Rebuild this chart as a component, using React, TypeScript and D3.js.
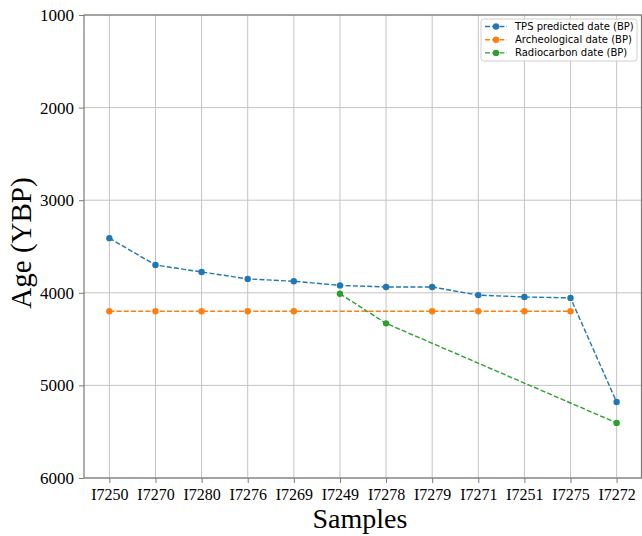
import React, { useEffect, useRef } from 'react';
import * as d3 from 'd3';

const samples = ['I7250', 'I7270', 'I7280', 'I7276', 'I7269', 'I7249', 'I7278', 'I7279', 'I7271', 'I7251', 'I7275', 'I7272'];
const tpsDates = [3410, 3700, 3775, 3850, 3875, 3920, 3937, 3937, 4025, 4045, 4055, 5180];
const archSamples = ['I7250', 'I7270', 'I7280', 'I7276', 'I7269', 'I7279', 'I7271', 'I7251', 'I7275'];
const archDates = [4200, 4200, 4200, 4200, 4200, 4200, 4200, 4200, 4200];
const radioSamples = ['I7249', 'I7278', 'I7272'];
const radioDates = [4010, 4330, 5405];
const yTicks = [1000, 2000, 3000, 4000, 5000, 6000];

const series = [
  { name: 'TPS predicted date (BP)', color: '#1f77b4', xs: samples, ys: tpsDates },
  { name: 'Archeological date (BP)', color: '#ff7f0e', xs: archSamples, ys: archDates },
  { name: 'Radiocarbon date (BP)', color: '#2ca02c', xs: radioSamples, ys: radioDates },
];

export default function App() {
  const svgRef = useRef<SVGSVGElement>(null);

  useEffect(() => {
    document.body.style.margin = '0';
    if (!svgRef.current) return;
    const svg = d3.select(svgRef.current);
    svg.selectAll('*').remove();

    const left = 84, right = 642, top = 15, bottom = 478;

    const x = d3.scalePoint<string>().domain(samples).range([left, right]).padding(0.55);
    const y = d3.scaleLinear().domain([1000, 6000]).range([top, bottom]);

    // grid
    const grid = svg.append('g').attr('stroke', '#b0b0b0').attr('stroke-width', 1).attr('opacity', 0.75);
    samples.forEach(s => {
      grid.append('line').attr('x1', x(s)!).attr('x2', x(s)!).attr('y1', top).attr('y2', bottom);
    });
    yTicks.forEach(t => {
      grid.append('line').attr('x1', left).attr('x2', right).attr('y1', y(t)).attr('y2', y(t));
    });

    // series
    const line = d3.line<[number, number]>().x(d => d[0]).y(d => d[1]);
    series.forEach(s => {
      const pts: [number, number][] = s.xs.map((k, i) => [x(k)!, y(s.ys[i])]);
      svg.append('path')
        .attr('d', line(pts)!)
        .attr('fill', 'none')
        .attr('stroke', s.color)
        .attr('stroke-width', 1.4)
        .attr('stroke-dasharray', '5,2.2');
      svg.append('g').selectAll('circle').data(pts).enter().append('circle')
        .attr('cx', d => d[0]).attr('cy', d => d[1]).attr('r', 3.2)
        .attr('fill', s.color);
    });

    // spines
    svg.append('rect')
      .attr('x', left).attr('y', top).attr('width', right - left - 0.5).attr('height', bottom - top)
      .attr('fill', 'none').attr('stroke', '#7a7a7a').attr('stroke-width', 1.2);

    // y axis
    const ya = svg.append('g').attr('transform', `translate(${left},0)`)
      .call(d3.axisLeft(y).tickValues(yTicks).tickFormat(d3.format('d')).tickSize(5).tickPadding(5));
    ya.select('.domain').remove();
    ya.selectAll('line').attr('stroke', '#7a7a7a');
    ya.selectAll('text').attr('font-family', '"Liberation Serif", serif').attr('font-size', 17).attr('fill', '#000');

    // x axis
    const xa = svg.append('g').attr('transform', `translate(0,${bottom})`)
      .call(d3.axisBottom(x).tickSize(5).tickPadding(6));
    xa.select('.domain').remove();
    xa.selectAll('line').attr('stroke', '#7a7a7a');
    xa.selectAll('text').attr('font-family', '"Liberation Serif", serif').attr('font-size', 16).attr('fill', '#000');

    // axis titles
    svg.append('text')
      .attr('x', (left + right) / 2 - 3).attr('y', 528)
      .attr('text-anchor', 'middle')
      .attr('font-family', '"Liberation Serif", serif').attr('font-size', 28)
      .text('Samples');
    svg.append('text')
      .attr('transform', 'translate(31,243) rotate(-90)')
      .attr('text-anchor', 'middle')
      .attr('font-family', '"Liberation Serif", serif').attr('font-size', 29)
      .text('Age (YBP)');

    // legend
    const lg = svg.append('g').attr('transform', 'translate(481,19)');
    lg.append('rect').attr('width', 156).attr('height', 42).attr('rx', 3)
      .attr('fill', 'white').attr('fill-opacity', 0.8).attr('stroke', '#d0d0d0');
    series.forEach((s, i) => {
      const cy = 7.5 + i * 13.2;
      lg.append('line').attr('x1', 4).attr('x2', 26).attr('y1', cy).attr('y2', cy)
        .attr('stroke', s.color).attr('stroke-width', 1.4).attr('stroke-dasharray', '5,2.2');
      lg.append('circle').attr('cx', 15).attr('cy', cy).attr('r', 3.2).attr('fill', s.color);
      lg.append('text').attr('x', 34).attr('y', cy + 3.5)
        .attr('font-family', '"DejaVu Sans", sans-serif').attr('font-size', 10)
        .text(s.name);
    });
  }, []);

  return <svg ref={svgRef} width={642} height={536} style={{ display: 'block', background: '#fff' }} />;
}
